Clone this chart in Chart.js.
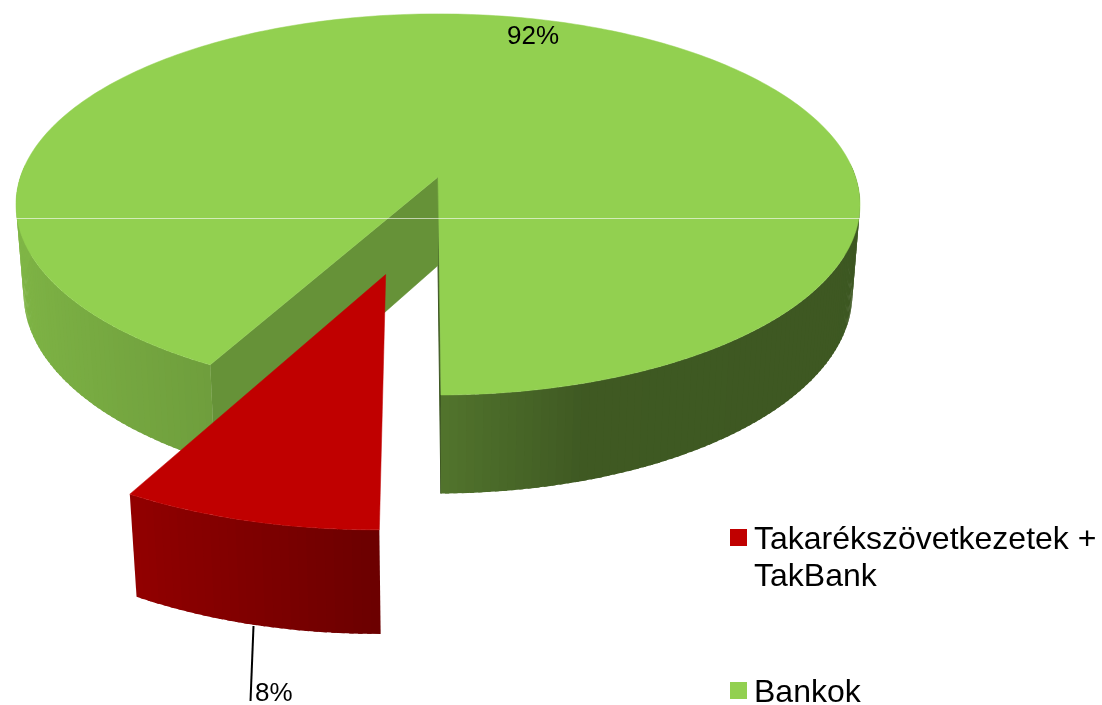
<!DOCTYPE html>
<html>
<head>
<meta charset="utf-8">
<script src="https://cdn.jsdelivr.net/npm/chart.js@4"></script>
<style>
	html, body { margin: 0; padding: 0; background: #fff; overflow: hidden; }
	canvas { display: block; }
</style>
</head>
<body>
<canvas id="pie3d" width="1102" height="705"></canvas>
<script>
const categories = [['Takarékszövetkezetek +', 'TakBank'], ['Bankok']];
const shares = [8, 92];
const sliceColors = ['#c00000', '#92d050'];
const pulledOut = [0.5, 0];

// perspective of the disc: u,v on the unit circle, z 0 on top and 1 at the bottom
const CX = 438, CY = 177, A = 417.6, B = 186.6, K = 0.144;
const DEPTH = 90, SHRINK = 0.018;
const PULL_TURN = 0.01;
const FONT = '"Liberation Sans", Arial, sans-serif';

// side brightness, looked up by which way the wall faces
const shadeU = [-1, -0.48, 0, 0.3, 1];
const shadeV = [0.87, 0.76, 0.56, 0.43, 0.42];

function project(u, v, z)
{
	let w = 1 - K * v + SHRINK * z;
	return [CX + A * u / w, CY + (B * v + DEPTH * z) / w];
}

function shade(hex, f)
{
	let n = parseInt(hex.slice(1), 16);
	let r = Math.round((n >> 16 & 255) * f);
	let g = Math.round((n >> 8 & 255) * f);
	let b = Math.round((n & 255) * f);
	return 'rgb(' + r + ',' + g + ',' + b + ')';
}

function sideFactor(u)
{
	for (let i = 1; i < shadeU.length; i++)
	{
		if (u <= shadeU[i])
		{
			let t = (u - shadeU[i - 1]) / (shadeU[i] - shadeU[i - 1]);
			return shadeV[i - 1] + t * (shadeV[i] - shadeV[i - 1]);
		}
	}
	return shadeV[shadeV.length - 1];
}

function polygon(ctx, pts, color, outline)
{
	ctx.beginPath();
	pts.forEach(function(p, i) {
		if (i == 0) ctx.moveTo(p[0], p[1]);
		else ctx.lineTo(p[0], p[1]);
	});
	ctx.closePath();
	ctx.fillStyle = color;
	ctx.fill();
	if (outline)
	{
		ctx.strokeStyle = color;
		ctx.lineWidth = outline;
		ctx.stroke();
	}
}

function drawSlice(ctx, arc, pull)
{
	let color = arc.options.backgroundColor;
	let mid = (arc.startAngle + arc.endAngle) / 2 - PULL_TURN;
	let ox = Math.cos(mid) * pull, oy = Math.sin(mid) * pull;
	let span = arc.endAngle - arc.startAngle;
	let steps = Math.ceil(span / (Math.PI / 180));
	let rimPoint = function(i) {
		let a = arc.startAngle + span * i / steps;
		return [ox + Math.cos(a), oy + Math.sin(a), Math.cos(a), Math.sin(a)];
	};

	// inner walls first, they sit behind the rim on the near side
	let first = rimPoint(0), last = rimPoint(steps);
	if (pull == 0)
	{
		polygon(ctx, [project(ox, oy, 0), project(last[0], last[1], 0), project(last[0], last[1], 1), project(ox, oy, 1)], shade(color, 0.42), 1);
		polygon(ctx, [project(ox, oy, 0), project(first[0], first[1], 0), project(first[0], first[1], 1), project(ox, oy, 1)], shade(color, 0.7), 0.5);
	}

	// near side of the rim only, each band runs a bit under the next to hide seams
	for (let i = 0; i < steps; i++)
	{
		let p = rimPoint(i), q = rimPoint(Math.min(i + 1.5, steps));
		if (Math.max(p[3], q[3]) < -0.05) continue;
		polygon(ctx, [project(p[0], p[1], 0), project(q[0], q[1], 0), project(q[0], q[1], 1), project(p[0], p[1], 1)],
			shade(color, sideFactor(rimPoint(i + 0.5)[2])));
	}

	let top = [project(ox, oy, 0)];
	for (let i = 0; i <= steps; i++)
	{
		let p = rimPoint(i);
		top.push(project(p[0], p[1], 0));
	}
	polygon(ctx, top, color, 0.5);
}

const disc3d = {
	id: 'disc3d',
	beforeDatasetDraw(chart, args) {
		let ctx = chart.ctx;
		let arcs = chart.getDatasetMeta(args.index).data;
		ctx.save();
		// far slice first, the pulled out one lies in front of it
		drawSlice(ctx, arcs[1], pulledOut[1]);
		drawSlice(ctx, arcs[0], pulledOut[0]);

		ctx.fillStyle = 'rgba(255,255,255,0.6)';
		ctx.fillRect(16, 218, 844, 1);
		ctx.restore();
		return false;
	},
	afterDatasetsDraw(chart) {
		let ctx = chart.ctx;
		ctx.save();
		ctx.fillStyle = '#000';
		ctx.textBaseline = 'alphabetic';
		ctx.font = '26px ' + FONT;
		ctx.fillText(shares[1] + '%', 507, 44);
		ctx.fillText(shares[0] + '%', 255, 701);

		ctx.beginPath();
		ctx.moveTo(253.5, 626);
		ctx.lineTo(250.5, 701);
		ctx.strokeStyle = '#000';
		ctx.lineWidth = 2;
		ctx.stroke();

		ctx.font = '32px ' + FONT;
		ctx.fillStyle = sliceColors[0];
		ctx.fillRect(730, 529, 17, 17);
		ctx.fillStyle = sliceColors[1];
		ctx.fillRect(730, 682, 17, 17);
		ctx.fillStyle = '#000';
		ctx.fillText(categories[0][0], 754, 549);
		ctx.fillText(categories[0][1], 754, 586);
		ctx.fillText(categories[1][0], 754, 702);
		ctx.restore();
	}
};

new Chart(document.getElementById('pie3d').getContext('2d'), {
	type: 'pie',
	data: {
		labels: categories,
		datasets: [{ data: shares, backgroundColor: sliceColors, borderWidth: 0 }]
	},
	options: {
		responsive: false,
		animation: false,
		rotation: 179.65,
		plugins: { legend: { display: false }, tooltip: { enabled: false } }
	},
	plugins: [disc3d]
});
</script>
</body>
</html>
